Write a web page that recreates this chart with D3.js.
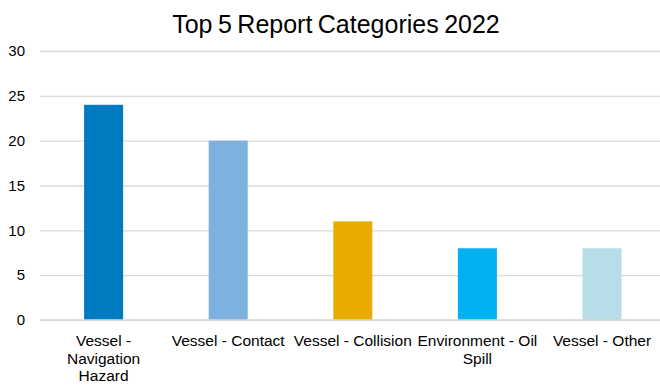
<!DOCTYPE html>
<html>
<head>
<meta charset="utf-8">
<script src="https://cdn.jsdelivr.net/npm/d3@7"></script>
<style>
  html, body { margin: 0; padding: 0; background: #fff; }
  svg { display: block; font-family: "Liberation Sans", Arial, sans-serif; }
</style>
</head>
<body>
<svg id="chart" width="660" height="385"></svg>
<script>
// Report counts per category
const categories = [
  "Vessel - Navigation Hazard",
  "Vessel - Contact",
  "Vessel - Collision",
  "Environment - Oil Spill",
  "Vessel - Other"
];
const counts = [24, 20, 11, 8, 8];
const barColors = ["#007AC0", "#7FB1DF", "#E8AC00", "#00B0F0", "#B7DDE8"];
const yTicks = [0, 5, 10, 15, 20, 25, 30];
const chartTitle = "Top 5 Report Categories 2022";

const svg = d3.select("#chart");
const width = 660;

const x = d3.scaleBand()
  .domain(categories)
  .range([41.3, 664.3])
  .paddingInner(0.687)
  .paddingOuter(0.3435);

const y = d3.scaleLinear()
  .domain([0, 30])
  .range([320, 51]);

// Title
svg.append("text")
  .attr("x", 336)
  .attr("y", 33)
  .attr("text-anchor", "middle")
  .attr("font-size", 25)
  .attr("word-spacing", -1.5)
  .attr("fill", "#000")
  .text(chartTitle);

// Horizontal gridlines with value labels
const yAxis = d3.axisLeft(y)
  .tickValues(yTicks)
  .tickSize(-(width - 40))
  .tickPadding(15);

const yg = svg.append("g")
  .attr("transform", "translate(40,0)")
  .call(yAxis);
yg.select(".domain").remove();
yg.selectAll(".tick line")
  .attr("stroke", "#D9D9D9")
  .attr("stroke-width", 1.3);
yg.selectAll(".tick text")
  .attr("font-size", 15)
  .attr("font-family", "Liberation Sans, Arial, sans-serif")
  .attr("fill", "#000");

// Bars
svg.append("g")
  .selectAll("rect")
  .data(categories)
  .join("rect")
  .attr("x", d => x(d))
  .attr("width", x.bandwidth())
  .attr("y", (d, i) => y(counts[i]))
  .attr("height", (d, i) => y(0) - y(counts[i]))
  .attr("fill", (d, i) => barColors[i]);

// Baseline redrawn over bar bottoms
svg.append("line")
  .attr("x1", 40).attr("x2", width)
  .attr("y1", y(0)).attr("y2", y(0))
  .attr("stroke", "#D9D9D9")
  .attr("stroke-width", 1.3);

// Category labels, wrapped to the category slot width
const slot = x.step();
const labelG = svg.append("g");
categories.forEach(cat => {
  const cx = x(cat) + x.bandwidth() / 2;
  const t = labelG.append("text")
    .attr("x", cx)
    .attr("y", 346)
    .attr("text-anchor", "middle")
    .attr("font-size", 15.5)
    .attr("fill", "#000");
  const words = cat.split(" ");
  let line = [];
  let lineNo = 0;
  let tspan = t.append("tspan").attr("x", cx).attr("dy", 0);
  words.forEach(w => {
    line.push(w);
    tspan.text(line.join(" "));
    if (tspan.node().getComputedTextLength() > slot - 2 && line.length > 1) {
      line.pop();
      tspan.text(line.join(" "));
      line = [w];
      lineNo++;
      tspan = t.append("tspan").attr("x", cx).attr("dy", 17.6).text(w);
    }
  });
});
</script>
</body>
</html>
